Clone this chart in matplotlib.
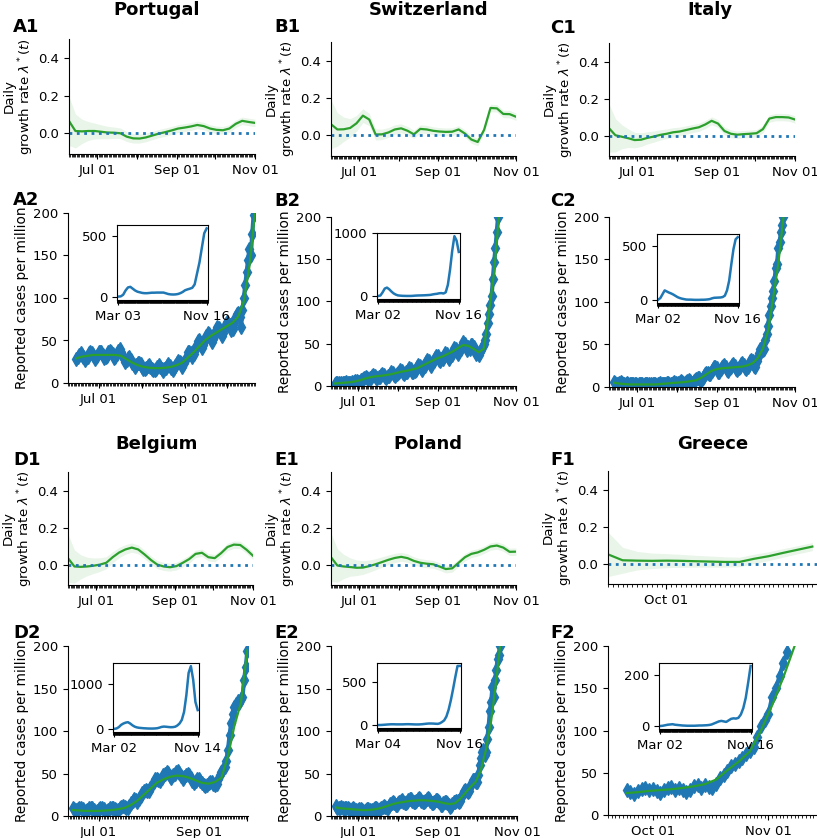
import numpy as np
import matplotlib
matplotlib.use("Agg")
import matplotlib.pyplot as plt
import matplotlib.dates as mdates
from matplotlib.ticker import FuncFormatter

plt.rcParams['font.family'] = 'DejaVu Sans'
plt.rcParams['font.size'] = 9.5

# ---------------- data ----------------
countries = ['Portugal', 'Switzerland', 'Italy', 'Belgium', 'Poland', 'Greece']
panel_tags = ['A', 'B', 'C', 'D', 'E', 'F']

# daily growth rate, every 5 days from Jun 09 (Greece: every 3 days from Sep 19)
portugal_rate = [0.065, 0.012, 0.010, 0.012, 0.012, 0.008, 0.004, 0.003, 0.000, -0.018,
                 -0.027, -0.028, -0.022, -0.012, -0.002, 0.006, 0.015, 0.025, 0.030, 0.036,
                 0.044, 0.038, 0.025, 0.018, 0.016, 0.025, 0.050, 0.066, 0.060, 0.055]
switzerland_rate = [0.060, 0.032, 0.033, 0.040, 0.065, 0.106, 0.085, 0.005, 0.006, 0.016,
                    0.032, 0.038, 0.025, 0.006, 0.035, 0.032, 0.025, 0.021, 0.019, 0.020,
                    0.032, 0.010, -0.022, -0.035, 0.030, 0.147, 0.145, 0.115, 0.114, 0.100]
italy_rate = [0.040, 0.002, -0.006, -0.014, -0.024, -0.022, -0.012, -0.005, 0.004, 0.010,
              0.018, 0.022, 0.030, 0.038, 0.045, 0.060, 0.080, 0.065, 0.025, 0.010,
              0.005, 0.008, 0.010, 0.013, 0.035, 0.092, 0.100, 0.100, 0.098, 0.087]
belgium_rate = [0.035, -0.010, -0.012, -0.010, -0.006, 0.000, 0.010, 0.040, 0.065, 0.082,
                0.092, 0.082, 0.055, 0.025, 0.000, -0.010, -0.014, -0.008, 0.010, 0.030,
                0.058, 0.064, 0.040, 0.035, 0.062, 0.095, 0.108, 0.106, 0.080, 0.048]
poland_rate = [0.040, -0.005, -0.010, -0.013, -0.017, -0.016, -0.008, 0.002, 0.014, 0.026,
               0.036, 0.042, 0.035, 0.020, 0.010, 0.005, 0.002, -0.010, -0.024, -0.020,
               0.010, 0.040, 0.058, 0.066, 0.080, 0.098, 0.103, 0.092, 0.069, 0.070]
greece_rate = [0.050, 0.018, 0.016, 0.015, 0.016, 0.015, 0.013, 0.011, 0.009, 0.009,
               0.026, 0.040, 0.058, 0.075, 0.092]
# half width of the credible band
rate_band = [0.13, 0.09, 0.065, 0.05, 0.042, 0.037, 0.033, 0.03, 0.028, 0.026,
             0.025, 0.024, 0.023, 0.022, 0.022, 0.022, 0.021, 0.021, 0.021, 0.021,
             0.02, 0.02, 0.02, 0.02, 0.02, 0.02, 0.02, 0.02, 0.02, 0.02]
greece_band = [0.12, 0.07, 0.05, 0.042, 0.038, 0.035, 0.032, 0.03, 0.028, 0.026,
               0.025, 0.024, 0.023, 0.022, 0.022]
rate_start = ['2020-06-09'] * 5 + ['2020-09-19']
rate_step = [5, 5, 5, 5, 5, 3]

# reported cases per million, daily
portugal_cases = [28, 30, 33, 35, 33, 31, 27,
                  29, 31, 35, 37, 35, 33, 28,
                  30, 32, 36, 37, 36, 33, 29,
                  30, 32, 36, 38, 36, 34, 29,
                  31, 34, 38, 40, 37, 33, 28,
                  25, 27, 29, 30, 27, 24, 21,
                  19, 21, 23, 24, 22, 19, 17,
                  16, 18, 20, 21, 19, 17, 15,
                  15, 17, 19, 21, 19, 17, 14,
                  16, 18, 20, 22, 20, 18, 15,
                  18, 20, 23, 26, 25, 23, 19,
                  23, 27, 31, 36, 37, 35, 30,
                  34, 39, 44, 49, 50, 47, 41,
                  45, 50, 55, 59, 58, 55, 48,
                  52, 57, 62, 66, 65, 62, 55,
                  59, 64, 69, 72, 71, 68, 62,
                  64, 70, 76, 81, 82, 78, 66,
                  86, 100, 115, 130, 145, 158, 150,
                  175, 198]
switzerland_cases = [2, 3, 4, 3, 2, 3, 4,
                     3, 4, 5, 4, 3, 4, 5,
                     4, 5, 6, 6, 5, 5, 7,
                     7, 8, 10, 11, 9, 8, 10,
                     10, 12, 13, 12, 10, 9, 11,
                     11, 13, 14, 13, 11, 10, 12,
                     12, 14, 16, 15, 13, 12, 14,
                     15, 17, 19, 18, 15, 14, 16,
                     16, 19, 21, 20, 17, 16, 18,
                     19, 22, 25, 24, 21, 19, 22,
                     24, 28, 31, 30, 26, 24, 27,
                     29, 33, 36, 35, 31, 29, 32,
                     32, 36, 39, 38, 34, 32, 36,
                     37, 41, 45, 44, 40, 38, 42,
                     44, 49, 52, 50, 46, 43, 46,
                     44, 48, 49, 46, 41, 38, 39,
                     37, 40, 43, 47, 50, 55, 62,
                     74, 85, 96, 106, 127, 147, 163,
                     182, 200]
italy_cases = [6, 5, 4, 4, 5, 6, 5,
               4, 3, 4, 5, 4, 3, 3,
               3, 4, 4, 3, 2, 3, 4,
               4, 3, 2, 3, 4, 4, 3,
               2, 3, 4, 4, 3, 2, 3,
               4, 5, 4, 3, 3, 4, 5,
               5, 4, 3, 4, 5, 6, 5,
               4, 5, 6, 7, 6, 5, 5,
               6, 7, 8, 7, 5, 5, 7,
               8, 9, 10, 10, 8, 7, 10,
               13, 15, 17, 17, 15, 15, 19,
               21, 23, 24, 22, 18, 18, 21,
               23, 25, 26, 24, 20, 19, 22,
               24, 26, 27, 25, 21, 20, 22,
               24, 27, 28, 26, 22, 21, 24,
               26, 30, 32, 30, 25, 24, 30,
               35, 40, 45, 47, 44, 45, 55,
               62, 72, 85, 95, 105, 113, 125,
               140, 145, 163, 170, 182, 190, 200]
belgium_cases = [10, 8, 7, 8, 9, 10, 8,
                 6, 6, 7, 9, 10, 9, 7,
                 5, 6, 8, 9, 10, 8, 6,
                 6, 7, 9, 10, 10, 8, 7,
                 7, 9, 11, 12, 11, 9, 10,
                 12, 15, 18, 20, 19, 17, 20,
                 23, 27, 30, 31, 30, 29, 33,
                 37, 40, 43, 44, 42, 41, 45,
                 48, 50, 52, 51, 47, 45, 48,
                 50, 52, 53, 51, 47, 44, 46,
                 48, 49, 48, 45, 41, 39, 41,
                 43, 43, 41, 39, 36, 35, 37,
                 39, 40, 40, 38, 37, 38, 43,
                 48, 52, 55, 58, 65, 78, 95,
                 110, 120, 128, 132, 135, 133, 138,
                 140, 160, 175, 194]
poland_cases = [12, 10, 9, 10, 11, 9, 8,
                9, 10, 9, 8, 7, 8, 9,
                8, 7, 6, 7, 8, 8, 7,
                6, 6, 7, 8, 8, 7, 6,
                7, 8, 9, 9, 8, 7, 8,
                10, 11, 12, 11, 10, 10, 12,
                14, 15, 16, 15, 13, 13, 15,
                17, 18, 19, 17, 15, 15, 17,
                19, 20, 20, 18, 16, 16, 18,
                20, 21, 20, 18, 16, 16, 18,
                20, 21, 20, 18, 15, 15, 17,
                19, 19, 18, 16, 13, 13, 15,
                16, 16, 15, 13, 11, 12, 14,
                16, 17, 18, 18, 16, 18, 22,
                26, 29, 31, 30, 28, 30, 35,
                39, 42, 42, 40, 40, 48, 60,
                68, 75, 78, 72, 75, 91, 105,
                123, 134, 152, 140, 160, 172, 185,
                190, 200]
greece_cases = [30, 27, 25, 28, 31, 32, 29,
                31, 28, 26, 29, 32, 33, 30,
                32, 29, 27, 30, 34, 35, 32,
                35, 33, 32, 37, 44, 47, 52,
                58, 60, 64, 68, 72, 76, 80,
                92, 105, 112, 120, 140, 150, 165,
                180, 193]
case_start = ['2020-06-15', '2020-06-13', '2020-06-13', '2020-06-15', '2020-06-14', '2020-09-24']

# smoothed fit, every 4 days from case_start (Greece: every 3 days)
portugal_fit = [29, 31, 32, 33, 33, 33, 33, 33, 32, 28, 24, 21, 19, 18, 17.5, 17.5, 18,
                19, 21, 24, 30, 36, 43, 50, 55, 59, 63, 67, 71, 78, 96, 137, 200]
switzerland_fit = [3, 3.5, 4, 4.5, 5.5, 7, 9, 10.5, 11.5, 12, 13, 14, 15.5, 17, 18, 19.5, 21,
                   24, 27, 30, 33, 35, 38, 41, 45, 48.5, 47.5, 44, 40, 44, 88, 135, 205]
italy_fit = [5, 4, 3.5, 3, 3, 3, 3, 3, 3, 3.5, 4, 4.5, 5, 5.5, 6, 7, 8, 11, 15, 19, 21, 22,
             22.5, 23, 23.5, 24, 25.5, 28, 34, 45, 66, 105, 145, 200]
belgium_fit = [7, 6.5, 6, 6, 6, 6.5, 7, 8, 9.5, 13, 18, 25, 32, 39, 43, 46, 47.5, 47, 45,
               42, 39, 38, 40, 45, 70, 106, 133, 195]
poland_fit = [10, 9, 8.5, 8, 7.5, 7, 7, 7.5, 8.5, 10, 12, 14, 15.5, 16.5, 17.5, 18, 18.5,
              18.5, 18, 17.5, 16.5, 15, 14, 15, 20, 27, 34, 40, 54, 78, 112, 160, 215]
greece_fit = [26, 27, 28.5, 29.5, 30.5, 32, 34, 36.5, 42, 53, 63, 75, 100, 130, 163, 200]
fit_step = [4, 4, 4, 4, 4, 3]

# whole epidemic (insets), roughly weekly between first and last date
portugal_all = [0, 2, 15, 50, 75, 80, 65, 50, 40, 35, 30, 28, 28, 30, 32, 32, 33, 33, 33,
                33, 27, 21, 18, 17, 18, 21, 28, 38, 52, 59, 65, 72, 100, 190, 280, 400, 520, 560]
switzerland_all = [2, 10, 60, 120, 135, 110, 75, 45, 25, 12, 8, 5, 4, 3, 3, 3, 5, 8, 10,
                   11, 12, 13, 15, 17, 20, 27, 33, 37, 45, 48, 42, 60, 180, 420, 720, 950, 880, 700]
italy_all = [5, 20, 55, 90, 80, 70, 62, 52, 40, 28, 20, 14, 10, 6, 5, 5, 4, 3, 3, 3, 4, 4,
             5, 7, 10, 17, 22, 23, 24, 25, 29, 42, 90, 180, 330, 470, 560, 580]
belgium_all = [1, 10, 40, 90, 120, 140, 150, 120, 80, 50, 35, 25, 20, 15, 12, 9, 8, 8, 10,
               15, 28, 45, 52, 48, 42, 38, 40, 50, 75, 120, 200, 380, 750, 1250, 1400, 1100, 600, 420]
poland_all = [0, 0.5, 2, 4, 6, 8, 9, 9, 8, 8, 8, 8, 9, 10, 10, 9, 8, 7, 7, 8, 10, 13, 16,
              18, 18, 17, 15, 14, 20, 35, 55, 100, 180, 290, 420, 560, 690, 690]
greece_all = [0, 1, 3, 5, 6, 7, 5, 4, 3, 2, 1.5, 1, 1, 1, 1, 1.5, 2, 2, 2.5, 3, 4, 6, 10,
              14, 18, 20, 18, 16, 22, 28, 30, 29, 32, 45, 70, 110, 170, 235]
inset_first = ['2020-03-03', '2020-03-02', '2020-03-02', '2020-03-02', '2020-03-04', '2020-03-02']
inset_last = ['2020-11-16', '2020-11-16', '2020-11-16', '2020-11-14', '2020-11-16', '2020-11-16']
inset_yticks = [[0, 500], [0, 1000], [0, 500], [0, 1000], [0, 500], [0, 200]]

all_rates = [portugal_rate, switzerland_rate, italy_rate, belgium_rate, poland_rate, greece_rate]
all_bands = [rate_band] * 5 + [greece_band]
all_cases = [portugal_cases, switzerland_cases, italy_cases, belgium_cases, poland_cases, greece_cases]
all_fits = [portugal_fit, switzerland_fit, italy_fit, belgium_fit, poland_fit, greece_fit]
all_insets = [portugal_all, switzerland_all, italy_all, belgium_all, poland_all, greece_all]

# ---------------- layout (pixels) ----------------
W, H = 817, 838
rate_box = [(69, 39, 255, 154), (331, 42, 516, 156), (609, 43, 795, 156),
            (68, 472, 253, 585), (331, 472, 516, 585), (608, 471, 817, 584)]
case_box = [(68, 213, 255, 383), (331, 217, 516, 386), (609, 217, 795, 387),
            (68, 646, 248, 816), (331, 646, 517, 816), (608, 646, 817, 815)]
inset_box = [(117, 225, 208, 300), (377, 233, 460, 299), (657, 234, 739, 303),
             (113, 663, 199, 732), (377, 663, 461, 728), (659, 663, 752, 729)]
rate_xlim = [('2020-06-09', '2020-11-01')] * 5 + [('2020-09-19', '2020-10-31T23')]
case_xlim = [('2020-06-09', '2020-10-21'), ('2020-06-10', '2020-11-01'),
             ('2020-06-09', '2020-11-01'), ('2020-06-12', '2020-10-01T10'),
             ('2020-06-10', '2020-11-01'), ('2020-09-19', '2020-11-14')]
title_xy = [(157, 15), (429, 15), (710, 15), (157, 449), (428, 449), (713, 449)]
tag_x = [13, 274, 550, 13, 274, 550]
tag_y1 = [32, 32, 33, 465, 465, 465]
tag_y2 = [205, 206, 206, 638, 638, 638]


def box(l, t, r, b):
    return [l / W, 1 - b / H, (r - l) / W, (b - t) / H]


def days(start, n, step=1):
    return np.datetime64(start) + np.arange(n) * np.timedelta64(step, 'D')


def month_labels(months):
    def fmt(x, pos):
        d = mdates.num2date(x)
        return d.strftime('%b %d') if d.month in months else ''
    return FuncFormatter(fmt)


def style_dates(ax, months):
    ax.xaxis.set_major_locator(mdates.MonthLocator())
    ax.xaxis.set_major_formatter(month_labels(months))
    ax.xaxis.set_minor_locator(mdates.DayLocator())
    ax.spines['top'].set_visible(False)
    ax.spines['right'].set_visible(False)


green = '#2ca02c'
blue = '#1f77b4'

fig = plt.figure(figsize=(W / 100, H / 100), dpi=100)

for i in range(6):
    label_months = (7, 9, 11) if i < 5 else (10, 11)

    # growth rate panel
    bx = rate_box[i]
    ax = fig.add_axes(box(*bx))
    x = days(rate_start[i], len(all_rates[i]), rate_step[i])
    r = np.array(all_rates[i])
    b = np.array(all_bands[i])
    ax.fill_between(x, r - b, r + b, color=green, alpha=0.1, lw=0)
    ax.plot(x, r, color=green, lw=1.6)
    ax.axhline(0, color=blue, ls=':', lw=2)
    ax.set_xlim(np.datetime64(rate_xlim[i][0]), np.datetime64(rate_xlim[i][1]))
    ax.set_ylim(-0.11, 0.5)
    ax.set_yticks([0, 0.2, 0.4])
    style_dates(ax, label_months)
    ax.set_ylabel('Daily\ngrowth rate $\\lambda^*(t)$', fontsize=9.6, linespacing=1.05)
    ax.yaxis.set_label_coords(-33 / (bx[2] - bx[0]), 0.5)

    # cases panel
    bx = case_box[i]
    ax = fig.add_axes(box(*bx))
    xc = days(case_start[i], len(all_cases[i]))
    ax.plot(xc, all_cases[i], color=blue, marker='d', ms=7.5, lw=3, zorder=2)
    xf = days(case_start[i], len(all_fits[i]), fit_step[i])
    ax.plot(xf, all_fits[i], color=green, lw=1.6, zorder=3)
    ax.set_xlim(np.datetime64(case_xlim[i][0]), np.datetime64(case_xlim[i][1]))
    ax.set_ylim(0, 200)
    ax.set_yticks([0, 50, 100, 150, 200])
    style_dates(ax, label_months)
    ax.set_ylabel('Reported cases per million', fontsize=9.8)
    ax.yaxis.set_label_coords(-39 / (bx[2] - bx[0]), 0.5)

    # inset with the whole epidemic
    ins = fig.add_axes(box(*inset_box[i]))
    t0 = np.datetime64(inset_first[i])
    t1 = np.datetime64(inset_last[i])
    span = int((t1 - t0) / np.timedelta64(1, 'D'))
    n = len(all_insets[i])
    xi = t0 + np.round(np.linspace(0, span, n)).astype(int) * np.timedelta64(1, 'D')
    ins.plot(xi, all_insets[i], color=blue, lw=1.8)
    ins.set_xlim(t0 - np.timedelta64(4, 'D'), t1 + np.timedelta64(4, 'D'))
    ins.set_xticks([mdates.date2num(t0), mdates.date2num(t1)])
    ins.xaxis.set_major_formatter(mdates.DateFormatter('%b %d'))
    ins.xaxis.set_minor_locator(mdates.DayLocator())
    ins.set_yticks(inset_yticks[i])

    # titles and panel tags
    tx, ty = title_xy[i]
    fig.text(tx / W, 1 - ty / H, countries[i], ha='center', va='baseline',
             fontsize=13, fontweight='bold')
    fig.text(tag_x[i] / W, 1 - tag_y1[i] / H, panel_tags[i] + '1', ha='left',
             va='baseline', fontsize=13, fontweight='bold')
    fig.text(tag_x[i] / W, 1 - tag_y2[i] / H, panel_tags[i] + '2', ha='left',
             va='baseline', fontsize=13, fontweight='bold')

fig.savefig('out.png', dpi=100)
